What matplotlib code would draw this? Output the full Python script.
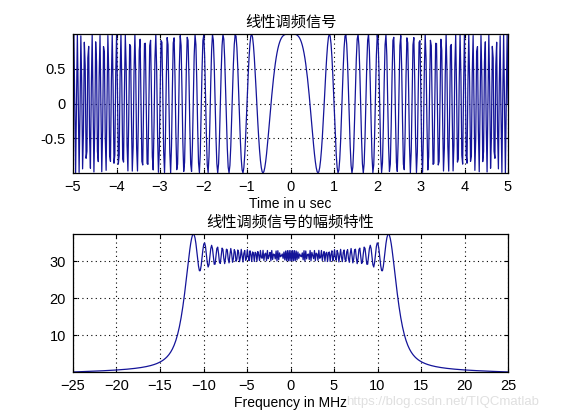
import numpy as np
import matplotlib
matplotlib.use('Agg')
import matplotlib.pyplot as plt

plt.rcParams['font.family'] = ['Liberation Sans', 'Noto Sans CJK SC', 'DejaVu Sans']

# chirp parameters
T = 10e-6        # pulse width, 10 us
B = 25e6         # bandwidth, 25 MHz
Fs = 2 * B       # sample rate, 50 MHz
K = B / T
N = int(round(T * Fs))

t = np.linspace(-T / 2, T / 2, N)
St = np.exp(1j * np.pi * K * t ** 2)
freq = np.linspace(-Fs / 2, Fs / 2, N)
Sf = np.fft.fftshift(np.abs(np.fft.fft(St)))

top_xticks = [-5, -4, -3, -2, -1, 0, 1, 2, 3, 4, 5]
top_yticks = [-0.5, 0, 0.5]
bot_xticks = [-25, -20, -15, -10, -5, 0, 5, 10, 15, 20, 25]
bot_yticks = [10, 20, 30]

line_col = (0.08, 0.08, 0.6)
cjk = ['Noto Sans CJK SC', 'DejaVu Sans']

fig = plt.figure(figsize=(5.61, 4.2), dpi=100)
ax1 = fig.add_axes([73 / 561, 1 - 173 / 420, 435 / 561, 139 / 420])
ax2 = fig.add_axes([73 / 561, 1 - 372 / 420, 435 / 561, 138 / 420])


def style(ax):
    ax.grid(True, color='black', linestyle=(0, (1, 3)), linewidth=0.8)
    ax.tick_params(direction='in', length=3, labelsize=10.5, top=True, right=True,
                   pad=5)
    for s in ax.spines.values():
        s.set_linewidth(0.9)


ax1.plot(t * 1e6, St.real, color=line_col, linewidth=0.9)
ax1.set_xlim(t[0] * 1e6, t[-1] * 1e6)
ax1.set_ylim(St.real.min(), St.real.max())
ax1.set_xticks(top_xticks)
ax1.set_yticks(top_yticks)
ax1.set_yticklabels(['-0.5', '0', '0.5'])
ax1.set_xlabel('Time in u sec', fontsize=10, labelpad=2)
ax1.set_title('线性调频信号', fontsize=11, family=cjk, pad=5)
style(ax1)

ax2.plot(freq * 1e-6, Sf, color=line_col, linewidth=0.9)
ax2.set_xlim(freq[0] * 1e-6, freq[-1] * 1e-6)
ax2.set_ylim(Sf.min(), Sf.max())
ax2.set_xticks(bot_xticks)
ax2.set_yticks(bot_yticks)
ax2.set_xlabel('Frequency in MHz', fontsize=10, labelpad=2)
ax2.set_title('线性调频信号的幅频特性', fontsize=11, family=cjk, pad=5)
style(ax2)

fig.text(0.617, 0.043, 'https://blog.csdn.net/TIQCmatlab', fontsize=9.5,
         color='#e0e0e0', va='center', zorder=0)

fig.savefig('out.png', dpi=100, facecolor='white')
